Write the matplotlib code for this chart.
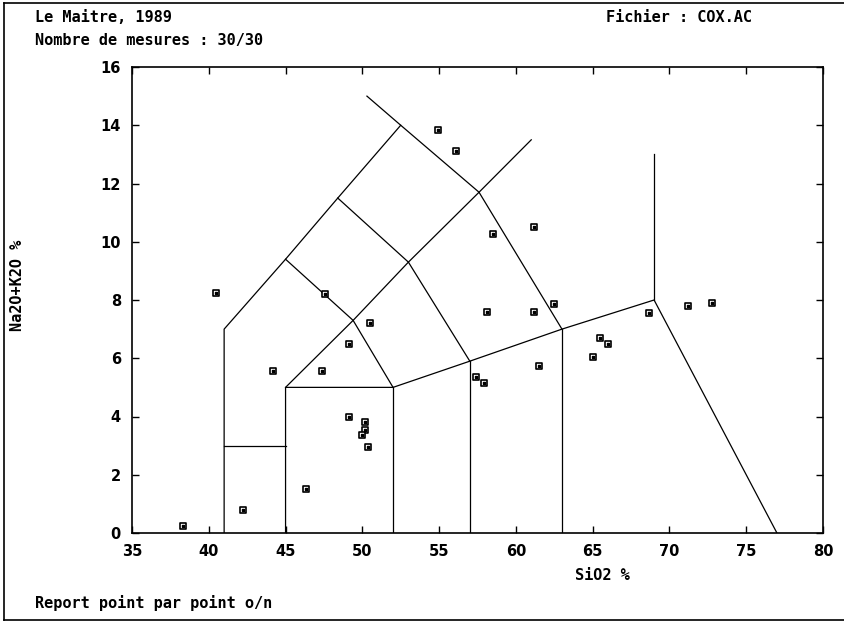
import matplotlib
matplotlib.use("Agg")
import matplotlib.pyplot as plt
from matplotlib.lines import Line2D

# Sample analyses (SiO2 %, Na2O+K2O %)
sio2 = [38.3, 42.2, 46.3, 40.5, 44.2, 47.6, 47.4, 49.1, 50.5, 49.1,
        50.2, 50.2, 50.0, 50.4, 54.9, 56.1, 58.5, 58.1, 61.2, 61.2,
        62.5, 57.4, 57.9, 61.5, 65.0, 65.5, 66.0, 68.7, 71.2, 72.8]
alk = [0.25, 0.8, 1.5, 8.25, 5.55, 8.2, 5.55, 6.5, 7.2, 4.0,
       3.8, 3.55, 3.35, 2.95, 13.85, 13.1, 10.25, 7.6, 10.5, 7.6,
       7.85, 5.35, 5.15, 5.75, 6.05, 6.7, 6.5, 7.55, 7.8, 7.9]

# TAS field boundaries (Le Maitre 1989)
tas_lines = [
    [(41, 0), (41, 7), (45, 9.4), (48.4, 11.5), (52.5, 14)],
    [(41, 3), (45, 3)],
    [(45, 0), (45, 5), (52, 5), (57, 5.9), (63, 7), (69, 8), (77, 0)],
    [(52, 0), (52, 5)],
    [(57, 0), (57, 5.9)],
    [(63, 0), (63, 7)],
    [(69, 8), (69, 13)],
    [(45, 5), (49.4, 7.3), (53, 9.3), (57.6, 11.7), (61, 13.5)],
    [(45, 9.4), (49.4, 7.3), (52, 5)],
    [(48.4, 11.5), (53, 9.3), (57, 5.9)],
    [(50.3, 15.0), (52.5, 14), (57.6, 11.7), (63, 7)],
]

fig = plt.figure(figsize=(8.45, 6.24), dpi=100)
ax = fig.add_axes([132 / 845, 1 - 533 / 624, (823 - 132) / 845, (533 - 67) / 624])

for seg in tas_lines:
    xs, ys = zip(*seg)
    ax.plot(xs, ys, color="black", lw=0.9)

ax.scatter(sio2, alk, marker="s", s=24, facecolor="white", edgecolor="black", linewidth=1.2, zorder=3)
ax.scatter(sio2, alk, marker="s", s=1.5, color="black", zorder=4)

ax.set_xlim(35, 80)
ax.set_ylim(0, 16)
ax.set_xticks(range(35, 81, 5))
ax.set_yticks(range(0, 17, 2))
ax.tick_params(direction="in", length=5, width=1, top=True, right=True, pad=8)
for lab in ax.get_xticklabels() + ax.get_yticklabels():
    lab.set_fontweight("bold")
    lab.set_fontsize(10.5)
for sp in ax.spines.values():
    sp.set_linewidth(1.2)

mono = dict(family="DejaVu Sans Mono", fontweight="bold", fontsize=11, color="black")
fig.text(35 / 845, 1 - 17 / 624, "Le Maitre, 1989", va="center", **mono)
fig.text(35 / 845, 1 - 41 / 624, "Nombre de mesures : 30/30", va="center", **mono)
fig.text(606 / 845, 1 - 17 / 624, "Fichier : COX.AC", va="center", **mono)
fig.text(602 / 845, 1 - 576 / 624, "SiO2 %", ha="center", va="center", **mono)
fig.text(35 / 845, 1 - 603 / 624, "Report point par point o/n", va="center", **mono)
fig.text(18 / 845, 1 - 285 / 624, "Na2O+K2O %", rotation=90, ha="center", va="center", **mono)

# outer frame of the screen copy
for xy in [([4, 845], [3, 3]), ([4, 4], [3, 620]), ([4, 845], [620, 620])]:
    fig.add_artist(Line2D([v / 845 for v in xy[0]], [1 - v / 624 for v in xy[1]],
                          color="black", lw=1.2))

fig.savefig("out.png", dpi=100)
